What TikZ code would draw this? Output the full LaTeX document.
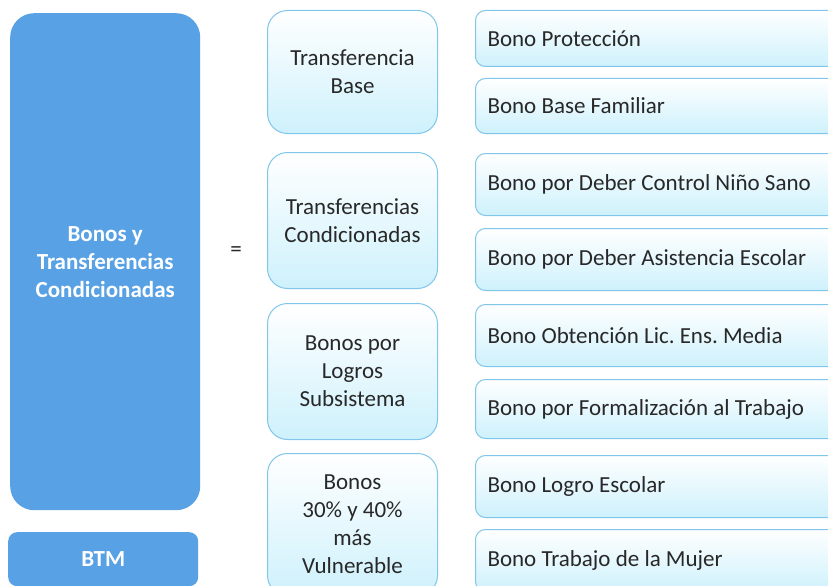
\documentclass[tikz,border=0pt]{standalone}
\usepackage{fontspec}
\setmainfont{Carlito}
\frenchspacing
\definecolor{bigblue}{RGB}{88,161,228}
\definecolor{edgeblue}{RGB}{128,197,234}
\definecolor{paleblue}{RGB}{206,241,252}
\definecolor{textgray}{RGB}{40,40,40}

\begin{document}
\begin{tikzpicture}[x=1pt, y=-1pt, font=\fontsize{23}{28}\selectfont]
                \tikzstyle{total} = [rectangle, fill=bigblue, text=white, font=\fontsize{23}{28}\selectfont\bfseries, align=center, anchor=north west, inner sep=0pt]
                \tikzstyle{group} = [rectangle, rounded corners=20pt, draw=edgeblue, line width=1pt, top color=white, bottom color=paleblue, text=textgray, align=center, anchor=north west, minimum width=170pt, inner sep=0pt]
                \tikzstyle{bono} = [rectangle, rounded corners=10pt, draw=edgeblue, line width=1pt, top color=white, bottom color=paleblue, text=textgray, align=left, anchor=north west, text width=346pt, inner xsep=12pt, inner ysep=0pt, execute at begin node={\spaceskip=0pt\xspaceskip=0pt}]

                \useasboundingbox (0,0) rectangle (828,586);
                \clip (0,0) rectangle (828,586);

                % Left column (dark blue)
                \node[total, rounded corners=24pt, minimum width=190pt, minimum height=497pt] (total) at (10,13) {Bonos y\\Transferencias\\Condicionadas};
                \node[total, rounded corners=9pt, minimum width=190pt, minimum height=54pt] (btm) at (8,532) {BTM};

                \node[text=textgray] (eq) at (236,252) {=};

                % Middle column (groups)
                \node[group, minimum height=123pt] (g1) at (267,10) {Transferencia\\Base};
                \node[group, minimum height=136pt] (g2) at (267,152) {Transferencias\\Condicionadas};
                \node[group, minimum height=136pt] (g3) at (267,303) {Bonos por\\Logros\\Subsistema};
                \node[group, minimum height=142pt] (g4) at (267,453) {Bonos\\30\% y 40\%\\más\\Vulnerable};

                % Right column (bonos)
                \node[bono, minimum height=56pt] (b1) at (475,10) {Bono Protección};
                \node[bono, minimum height=55pt] (b2) at (475,78) {Bono Base Familiar};
                \node[bono, minimum height=62pt] (b3) at (475,153) {Bono por Deber Control Niño Sano};
                \node[bono, minimum height=62pt] (b4) at (475,228) {Bono por Deber Asistencia Escolar};
                \node[bono, minimum height=62pt] (b5) at (475,304) {Bono Obtención Lic. Ens. Media};
                \node[bono, minimum height=59pt] (b6) at (475,379) {Bono por Formalización al Trabajo};
                \node[bono, minimum height=62pt] (b7) at (475,455) {Bono Logro Escolar};
                \node[bono, minimum height=62pt] (b8) at (475,529) {Bono Trabajo de la Mujer};
            \end{tikzpicture}
\end{document}
